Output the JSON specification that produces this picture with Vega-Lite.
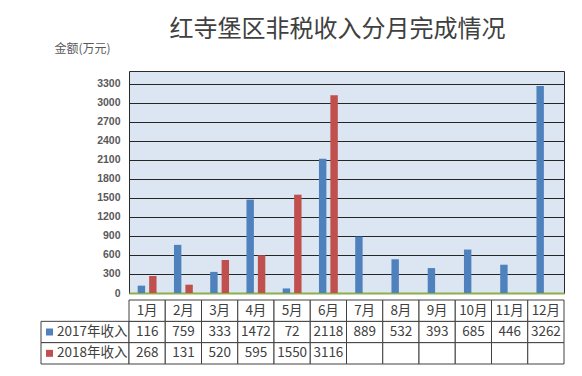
{
  "$schema": "https://vega.github.io/schema/vega-lite/v6.json",
  "padding": {"left": 40, "top": 17, "right": 19, "bottom": 10},
  "background": "white",
  "config": {"view": {"stroke": null}, "font": "Noto Sans CJK SC"},
  "datasets": {
    "main": [
      {"month": "1月", "series": "2017年收入", "value": 116},
      {"month": "2月", "series": "2017年收入", "value": 759},
      {"month": "3月", "series": "2017年收入", "value": 333},
      {"month": "4月", "series": "2017年收入", "value": 1472},
      {"month": "5月", "series": "2017年收入", "value": 72},
      {"month": "6月", "series": "2017年收入", "value": 2118},
      {"month": "7月", "series": "2017年收入", "value": 889},
      {"month": "8月", "series": "2017年收入", "value": 532},
      {"month": "9月", "series": "2017年收入", "value": 393},
      {"month": "10月", "series": "2017年收入", "value": 685},
      {"month": "11月", "series": "2017年收入", "value": 446},
      {"month": "12月", "series": "2017年收入", "value": 3262},
      {"month": "1月", "series": "2018年收入", "value": 268},
      {"month": "2月", "series": "2018年收入", "value": 131},
      {"month": "3月", "series": "2018年收入", "value": 520},
      {"month": "4月", "series": "2018年收入", "value": 595},
      {"month": "5月", "series": "2018年收入", "value": 1550},
      {"month": "6月", "series": "2018年收入", "value": 3116},
      {"month": "7月", "series": "2018年收入", "value": null},
      {"month": "8月", "series": "2018年收入", "value": null},
      {"month": "9月", "series": "2018年收入", "value": null},
      {"month": "10月", "series": "2018年收入", "value": null},
      {"month": "11月", "series": "2018年收入", "value": null},
      {"month": "12月", "series": "2018年收入", "value": null}
    ],
    "series": [
      {"series": "2017年收入"},
      {"series": "2018年收入"}
    ]
  },
  "vconcat": [
    {
      "bounds": "flush",
      "spacing": 0,
      "hconcat": [
        {
          "width": 88,
          "height": 222,
          "data": {"values": [{"t": ""}]},
          "mark": {"type": "text"},
          "encoding": {"text": {"field": "t", "type": "nominal"}}
        },
        {
          "width": 435,
          "height": 222,
          "title": {"text": "红寺堡区非税收入分月完成情况", "fontSize": 24, "font": "Noto Sans CJK SC", "fontWeight": "normal", "color": "#404040", "anchor": "middle", "dx": -9, "frame": "group", "offset": 0},
          "data": {"name": "main"},
          "view": {"fill": "#DCE6F2", "stroke": "#2b2b2b"},
          "mark": {"type": "bar"},
          "encoding": {
            "x": {"field": "month", "type": "nominal", "sort": ["1月","2月","3月","4月","5月","6月","7月","8月","9月","10月","11月","12月"], "scale": {"paddingInner": 0.48, "paddingOuter": 0.24}, "axis": {"title": null, "labels": false, "ticks": false, "domainColor": "#8DB04A", "domainWidth": 2}},
            "xOffset": {"field": "series", "type": "nominal", "scale": {"domain": ["2017年收入","2018年收入"], "paddingInner": 0.35}},
            "y": {"field": "value", "type": "quantitative", "scale": {"domain": [0, 3500], "nice": false}, "axis": {"values": [0,300,600,900,1200,1500,1800,2100,2400,2700,3000,3300], "format": "d", "title": "金额(万元)", "titleAngle": 0, "titleX": -47, "titleY": -23, "titleAlign": "center", "titleBaseline": "middle", "titleFontSize": 12, "titleFontWeight": "normal", "titleColor": "#595959", "titleFont": "Noto Sans CJK SC", "labelFont": "Liberation Sans", "labelFontSize": 10.5, "labelFontWeight": "bold", "labelColor": "#595959", "labelPadding": 9, "ticks": false, "domain": false, "gridColor": "#262626", "gridOpacity": 1, "gridWidth": 1}},
            "color": {"field": "series", "type": "nominal", "scale": {"domain": ["2017年收入","2018年收入"], "range": ["#4F81BD","#C0504D"]}, "legend": null}
          }
        }
      ]
    },
    {
      "bounds": "flush",
      "spacing": 0,
      "hconcat": [
        {
          "width": 88,
          "height": 64,
          "data": {"name": "series"},
          "encoding": {
            "y": {"field": "series", "type": "nominal", "scale": {"domain": ["月份","2017年收入","2018年收入"], "paddingInner": 0, "paddingOuter": 0}, "axis": null}
          },
          "layer": [
            {"mark": {"type": "bar", "fill": "white", "stroke": "#404040", "strokeWidth": 1}},
            {"mark": {"type": "point", "shape": "square", "filled": true, "size": 49, "opacity": 1, "xOffset": -35.5},
             "encoding": {"color": {"field": "series", "type": "nominal", "scale": {"domain": ["2017年收入","2018年收入"], "range": ["#4F81BD","#C0504D"]}, "legend": null}}},
            {"mark": {"type": "text", "align": "left", "dx": -28, "fontSize": 13.5, "color": "#404040"},
             "encoding": {"text": {"field": "series", "type": "nominal"}}}
          ]
        },
        {
          "width": 435,
          "height": 64,
          "data": {"name": "main"},
          "encoding": {
            "x": {"field": "month", "type": "nominal", "sort": ["1月","2月","3月","4月","5月","6月","7月","8月","9月","10月","11月","12月"], "scale": {"paddingInner": 0, "paddingOuter": 0}, "axis": null},
            "y": {"field": "series", "type": "nominal", "scale": {"domain": ["月份","2017年收入","2018年收入"], "paddingInner": 0, "paddingOuter": 0}, "axis": null}
          },
          "layer": [
            {"mark": {"type": "rect", "fill": "white", "stroke": "#404040", "strokeWidth": 1}},
            {"transform": [{"filter": "datum.series === '2017年收入'"}],
             "mark": {"type": "rect", "fill": "white", "stroke": "#404040", "strokeWidth": 1},
             "encoding": {"y": {"datum": "月份"}}},
            {"transform": [{"filter": "datum.series === '2017年收入'"}],
             "mark": {"type": "text", "fontSize": 13.5, "color": "#404040"},
             "encoding": {"y": {"datum": "月份"}, "text": {"field": "month", "type": "nominal"}}},
            {"transform": [{"filter": "isValid(datum.value)"}],
             "mark": {"type": "text", "fontSize": 13.5, "color": "#404040"},
             "encoding": {"text": {"field": "value", "type": "quantitative", "format": "d"}}}
          ]
        }
      ]
    }
  ],
  "spacing": 0
}
